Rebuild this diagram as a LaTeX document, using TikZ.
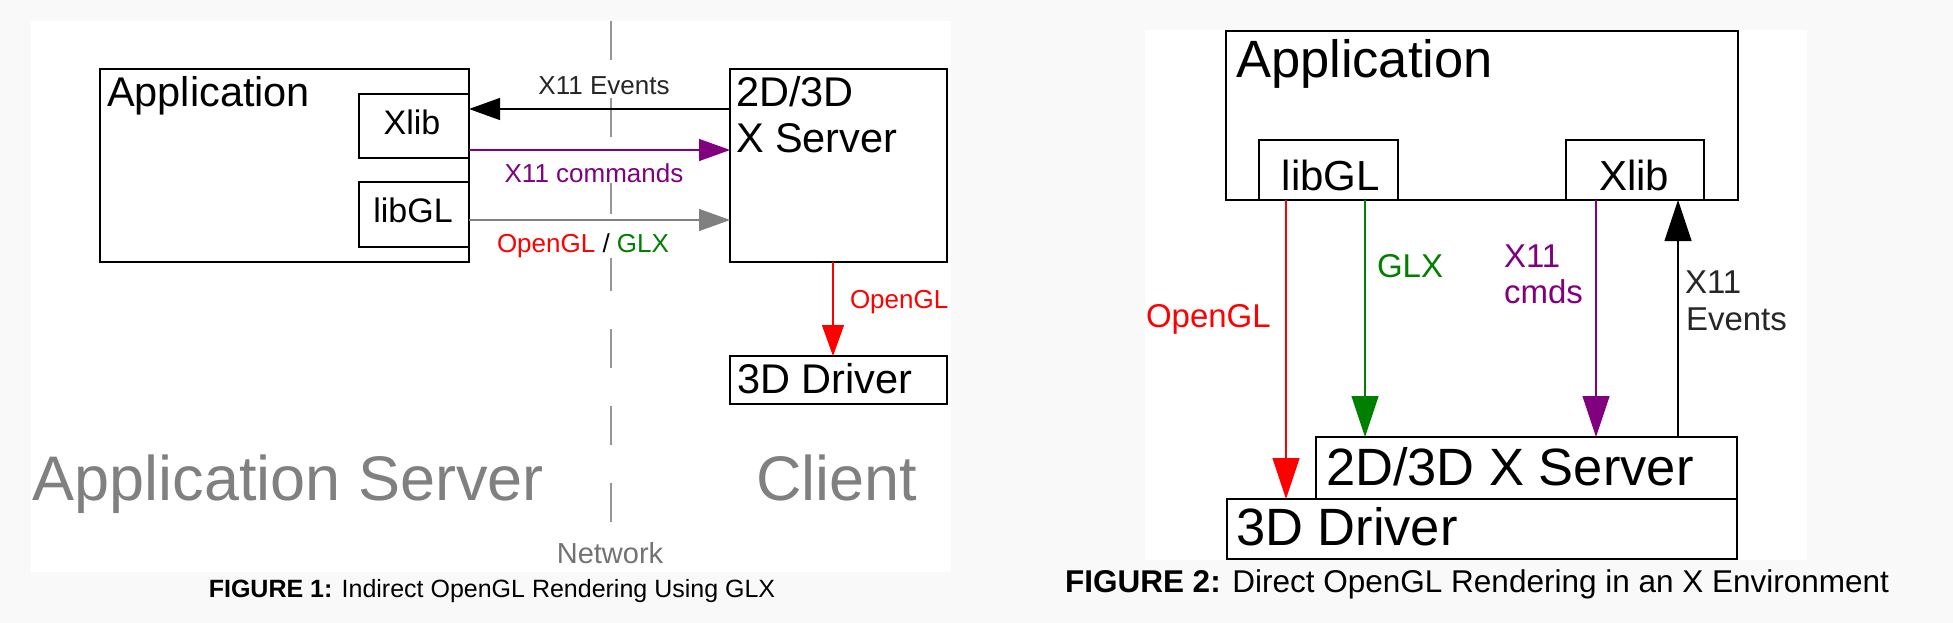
\documentclass[tikz,border=0pt]{standalone}
\usepackage{fontspec}
\setmainfont{Liberation Sans}
\usetikzlibrary{arrows.meta}
\definecolor{bggray}{RGB}{249,249,249}
\definecolor{xpurple}{RGB}{128,0,128}
\definecolor{xgreen}{RGB}{0,128,0}
\definecolor{xred}{RGB}{255,0,0}
\definecolor{xgray}{RGB}{128,128,128}
\definecolor{netgray}{RGB}{150,150,150}
\definecolor{biggray}{RGB}{128,128,128}
\newcommand{\fs}[1]{\fontsize{#1}{#1}\selectfont}
\tikzset{
  box/.style={draw=black, line width=1.8pt, fill=white, inner sep=0pt, outer sep=0pt},
  txt/.style={inner sep=0pt, outer sep=0pt},
  lbl/.style={inner sep=1pt, outer sep=0pt, fill=white},
  conn/.style={line width=1.3pt},
  tipA/.style={-{Triangle[length=31pt,width=22pt]}},
  tipB/.style={-{Triangle[length=41pt,width=27pt]}},
}
\begin{document}
\begin{tikzpicture}[x=1pt,y=-1pt]
\useasboundingbox (0,0) rectangle (1953,623);
\fill[bggray] (0,0) rectangle (1953,623);
\fill[white] (31,21) rectangle (951,572);
\fill[white] (1145,30) rectangle (1807,560);

% ---------------- Figure 1 ----------------
\coordinate (nettop) at (611,21);
\coordinate (netbot) at (611,522);
\draw[netgray, line width=1.2pt, dash pattern=on 39pt off 38pt] (nettop) -- (netbot);

\node[box, minimum width=369pt, minimum height=193pt] (app1) at (284.5,165.5) {};
\node[txt, anchor=base west, font=\fs{41.5}] (app1t) at (107,107) {Application};
\node[box, minimum width=110pt, minimum height=64pt] (xlib1) at (414,126) {};
\node[txt, anchor=base, font=\fs{34}] (xlib1t) at (412,135) {Xlib};
\node[box, minimum width=110pt, minimum height=65pt] (libgl1) at (414,214.5) {};
\node[txt, anchor=base, font=\fs{34}] (libgl1t) at (413,222) {libGL};

\node[box, minimum width=217pt, minimum height=193pt] (srv1) at (838.5,165.5) {};
\node[txt, anchor=base west, font=\fs{41.5}] (srv1a) at (736,107) {2D/3D};
\node[txt, anchor=base west, font=\fs{41.5}] (srv1b) at (736,153) {X Server};

\node[box, minimum width=217pt, minimum height=48pt] (drv1) at (838.5,380) {};
\node[txt, anchor=base west, font=\fs{41.5}] (drv1t) at (737,393) {3D Driver};

% connectors fig 1
\coordinate (ev1) at ([yshift=-15pt]xlib1.north east);
\draw[conn, tipA, black] (srv1.west |- ev1) -- (ev1);
\coordinate (cm1) at ([yshift=8pt]xlib1.south east);
\draw[conn, tipA, xpurple] (cm1) -- (srv1.west |- cm1);
\coordinate (gl1) at ([yshift=-5.5pt]libgl1.east);
\draw[conn, tipA, xgray] (gl1) -- (srv1.west |- gl1);
\coordinate (og1) at ([xshift=-5.5pt]srv1.south);
\draw[conn, tipA, xred] (og1) -- (og1 |- drv1.north);

\node[lbl, anchor=base, font=\fs{26}, text=black!85] (l-ev1) at (604,95) {X11 Events};
\node[lbl, anchor=base, font=\fs{26}, text=xpurple] (l-cm1) at (594,182) {X11 commands};
\node[lbl, anchor=base, font=\fs{26}] (l-gl1) at (583,252) {\textcolor{xred}{OpenGL} / \textcolor{xgreen}{GLX}};
\node[txt, anchor=base west, font=\fs{26}, text=xred] (l-og1) at (850,308) {OpenGL};

\node[txt, anchor=base west, font=\fs{63}, text=biggray] (appsrv) at (32.5,500) {Application Server};
\node[txt, anchor=base west, font=\fs{63}, text=biggray] (client) at (756,500) {Client};
\node[txt, anchor=base, font=\fs{29}, text=black!55] (network) at (610,563) {Network};

\node[txt, anchor=base, font=\fs{25}] (cap1) at (492,597) {\textbf{FIGURE 1:} Indirect OpenGL Rendering Using GLX};

% ---------------- Figure 2 ----------------
\node[box, minimum width=512pt, minimum height=169pt] (app2) at (1482,115.5) {};
\node[txt, anchor=base west, font=\fs{52.5}] (app2t) at (1236,78) {Application};
\node[box, minimum width=139pt, minimum height=60pt] (libgl2) at (1328.5,170) {};
\node[txt, anchor=base, font=\fs{42}] (libgl2t) at (1331,190) {libGL};
\node[box, minimum width=138pt, minimum height=60pt] (xlib2) at (1635,170) {};
\node[txt, anchor=base, font=\fs{42}] (xlib2t) at (1634,190) {Xlib};

\node[box, minimum width=510pt, minimum height=60pt] (drv2) at (1482,529) {};
\node[txt, anchor=base west, font=\fs{52.5}] (drv2t) at (1236,545) {3D Driver};
\node[box, minimum width=421pt, minimum height=62pt] (srv2) at (1526.5,468) {};
\node[txt, anchor=base west, font=\fs{52.5}] (srv2t) at (1326,485) {2D/3D X Server};

% connectors fig 2
\coordinate (og2) at ([xshift=27pt]libgl2.south west);
\draw[conn, tipB, xred] (og2) -- (og2 |- drv2.north);
\coordinate (gx2) at ([xshift=-33pt]libgl2.south east);
\draw[conn, tipB, xgreen] (gx2) -- (gx2 |- srv2.north);
\coordinate (cm2) at ([xshift=30pt]xlib2.south west);
\draw[conn, tipB, xpurple] (cm2) -- (cm2 |- srv2.north);
\coordinate (ev2) at ([xshift=-26pt]xlib2.south east);
\draw[conn, tipB, black] (ev2 |- srv2.north) -- (ev2);

\node[txt, anchor=base west, font=\fs{33}, text=xred] (l-og2) at (1146,327) {OpenGL};
\node[txt, anchor=base west, font=\fs{33}, text=xgreen] (l-gx2) at (1377,277) {GLX};
\node[txt, anchor=base west, font=\fs{33}, text=xpurple] (l-cm2a) at (1504,267) {X11};
\node[txt, anchor=base west, font=\fs{33}, text=xpurple] (l-cm2b) at (1504,303) {cmds};
\node[txt, anchor=base west, font=\fs{33}, text=black!85] (l-ev2a) at (1685,293) {X11};
\node[txt, anchor=base west, font=\fs{33}, text=black!85] (l-ev2b) at (1686,330) {Events};

\node[txt, anchor=base, font=\fs{31.5}] (cap2) at (1477,592) {\textbf{FIGURE 2:} Direct OpenGL Rendering in an X Environment};
\end{tikzpicture}
\end{document}
